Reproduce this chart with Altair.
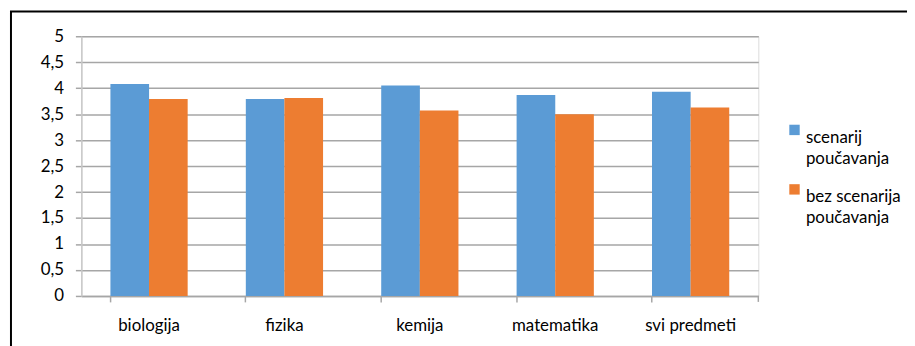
import altair as alt
import pandas as pd

categories = ["biologija", "fizika", "kemija", "matematika", "svi predmeti"]
series_names = ["scenarij poučavanja", "bez scenarija poučavanja"]
scenarij = [4.08, 3.79, 4.05, 3.87, 3.93]
bez_scenarija = [3.79, 3.81, 3.57, 3.50, 3.63]
y_ticks = [0, 0.5, 1, 1.5, 2, 2.5, 3, 3.5, 4, 4.5, 5]

rows = []
for i, c in enumerate(categories):
    rows.append({"predmet": c, "serija": series_names[0], "vrijednost": scenarij[i]})
    rows.append({"predmet": c, "serija": series_names[1], "vrijednost": bez_scenarija[i]})
df = pd.DataFrame(rows)

FONT = "Lato"
W, H = 683, 262

bars = alt.Chart(df).mark_bar(size=39).encode(
    x=alt.X("predmet:N", sort=categories, title=None,
            scale=alt.Scale(paddingInner=0.43, paddingOuter=0.215),
            axis=alt.Axis(labelAngle=0, labelFont=FONT, labelFontSize=17, labelColor="#000000",
                          labelPadding=16, domainColor="#A6A6A6", domainWidth=1.5,
                          tickColor="#A6A6A6", tickSize=6, tickWidth=1.5, bandPosition=0,
                          grid=False)),
    xOffset=alt.XOffset("serija:N", sort=series_names),
    y=alt.Y("vrijednost:Q", title=None,
            scale=alt.Scale(domain=[0, 5], nice=False),
            axis=alt.Axis(values=y_ticks,
                          labelExpr="replace(format(datum.value, '~g'), '.', ',')",
                          labelFont=FONT, labelFontSize=17, labelColor="#000000",
                          labelPadding=12, domainColor="#C8C8C8", domainWidth=1.5,
                          tickColor="#A6A6A6", tickSize=6, tickWidth=1.5,
                          gridColor="#A6A6A6", gridWidth=1.5)),
    color=alt.Color("serija:N", sort=series_names,
                    scale=alt.Scale(domain=series_names, range=["#5B9BD5", "#ED7D31"]),
                    legend=alt.Legend(title=None, orient="none", legendX=711, legendY=86,
                                      symbolType="square", symbolSize=110, symbolStrokeWidth=0,
                                      labelFont=FONT, labelFontSize=17, labelColor="#000000",
                                      labelLimit=200, labelOffset=3,
                                      labelExpr="datum.label == 'scenarij poučavanja' ? ['scenarij', 'poučavanja'] : ['bez scenarija', 'poučavanja']",
                                      labelBaseline="top", rowPadding=14, padding=0)),
)

end_tick = alt.Chart(pd.DataFrame({"k": [0]})).mark_rule(color="#A6A6A6", strokeWidth=1.5).encode(
    x=alt.value(W), y=alt.value(H), y2=alt.value(H + 6)
)

frame = alt.Chart(pd.DataFrame({"k": [0]})).mark_rect(fill=None, stroke="#000000", strokeWidth=2).encode(
    x=alt.value(-71), x2=alt.value(1000), y=alt.value(-25), y2=alt.value(500)
)

chart = alt.layer(bars, end_tick, frame).properties(
    width=W, height=H,
    autosize=alt.AutoSizeParams(type="none"),
    padding={"left": 74, "top": 27, "right": 150, "bottom": 49},
).configure_view(stroke=None).configure(
    background="white",
    style={"guide-label": {"lineHeight": 21}},
)

chart.save("out.html", embed_options={"renderer": "svg", "actions": False})
